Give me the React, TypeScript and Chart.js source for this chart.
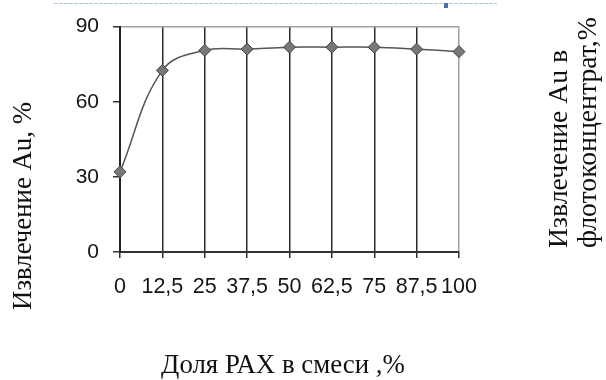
import React, { useEffect, useRef } from 'react';
import { Chart, registerables } from 'chart.js';

Chart.register(...registerables);

const shares = [0, 12.5, 25, 37.5, 50, 62.5, 75, 87.5, 100];
const recovery = [32, 72.5, 80.5, 81, 81.8, 81.8, 81.8, 81, 80];
const yTickValues = [0, 30, 60, 90];
const xTitle = 'Доля РАХ в смеси ,%';
const yTitle = 'Извлечение Au, %';
const rightTitle = ['Извлечение Au в', 'флотоконцентрат,%'];

const serif = '"Liberation Serif", "Times New Roman", serif';
const sans = '"Liberation Sans", Arial, sans-serif';

function fitFont(ctx: CanvasRenderingContext2D, text: string, target: number): string {
  ctx.font = '26px ' + serif;
  const w = ctx.measureText(text).width;
  const size = Math.max(18, Math.min(32, (26 * target) / w));
  return size.toFixed(2) + 'px ' + serif;
}

export default function App() {
  const ref = useRef<HTMLCanvasElement>(null);

  useEffect(() => {
    const canvas = ref.current;
    if (!canvas) return;

    const textPlugin = {
      id: 'decorTexts',
      afterDraw(chart: any) {
        const ctx = chart.ctx as CanvasRenderingContext2D;
        ctx.save();
        // dotted page line at the top
        ctx.strokeStyle = '#a8c6e2';
        ctx.lineWidth = 1;
        ctx.setLineDash([4, 1]);
        ctx.beginPath();
        ctx.moveTo(54, 3.5);
        ctx.lineTo(497, 3.5);
        ctx.stroke();
        ctx.setLineDash([]);
        ctx.fillStyle = '#4a70b0';
        ctx.fillRect(444, 3, 4, 5);

        ctx.fillStyle = '#111';

        // bottom title
        ctx.font = fitFont(ctx, xTitle, 244);
        ctx.textAlign = 'center';
        ctx.textBaseline = 'alphabetic';
        ctx.fillText(xTitle, 283, 373);

        // left title
        ctx.font = fitFont(ctx, yTitle, 208);
        ctx.save();
        ctx.translate(31, 206);
        ctx.rotate(-Math.PI / 2);
        ctx.textAlign = 'center';
        ctx.fillText(yTitle, 0, 0);
        ctx.restore();

        // right title (two lines, bottom-aligned)
        ctx.font = fitFont(ctx, rightTitle[1], 231);
        ctx.textAlign = 'left';
        const baseX = [567, 596];
        rightTitle.forEach((line, i) => {
          ctx.save();
          ctx.translate(baseX[i], 248);
          ctx.rotate(-Math.PI / 2);
          ctx.fillText(line, 0, 0);
          ctx.restore();
        });
        ctx.restore();
      },
    };

    const chart = new Chart(canvas, {
      type: 'line',
      data: {
        datasets: [
          {
            data: shares.map((x, i) => ({ x, y: recovery[i] })),
            borderColor: '#555555',
            borderWidth: 1.5,
            tension: 0.4,
            pointStyle: 'rectRot',
            pointRadius: 6,
            pointBackgroundColor: '#777777',
            pointBorderColor: '#444444',
            pointBorderWidth: 1,
            clip: false as any,
          },
        ],
      },
      options: {
        responsive: false,
        animation: false,
        devicePixelRatio: 1,
        layout: { padding: { top: 25, right: 147, bottom: 0, left: 0 } },
        plugins: { legend: { display: false }, tooltip: { enabled: false } },
        scales: {
          x: {
            type: 'linear',
            min: 0,
            max: 100,
            afterBuildTicks: (scale: any) => {
              scale.ticks = shares.map((v) => ({ value: v }));
            },
            afterFit: (scale: any) => {
              scale.height = 128;
            },
            ticks: {
              autoSkip: false,
              maxRotation: 0,
              padding: 16,
              color: '#151515',
              font: { family: sans, size: 21.5 },
              callback: (v: any) => String(v).replace('.', ','),
            },
            grid: {
              color: (c: any) => (c.tick && c.tick.value === 100 ? '#a0a0a0' : '#2a2a2a'),
              lineWidth: 1.5,
              tickLength: 6,
              tickColor: '#333333',
            },
            border: { display: true, color: '#333333', width: 2 },
          },
          y: {
            min: 0,
            max: 90,
            afterBuildTicks: (scale: any) => {
              scale.ticks = yTickValues.map((v) => ({ value: v }));
            },
            afterFit: (scale: any) => {
              scale.width = 120;
            },
            ticks: {
              padding: 14,
              color: '#151515',
              font: { family: sans, size: 21 },
            },
            grid: {
              color: (c: any) => (c.tick && c.tick.value === 90 ? '#a0a0a0' : 'rgba(0,0,0,0)'),
              lineWidth: 1.5,
              tickLength: 7,
              tickColor: '#333333',
            },
            border: { display: true, color: '#222222', width: 2 },
          },
        },
      },
      plugins: [textPlugin],
    } as any);

    return () => chart.destroy();
  }, []);

  return (
    <div style={{ position: 'absolute', left: 0, top: 0, width: 606, height: 380, background: '#fff' }}>
      <canvas ref={ref} width={606} height={380} style={{ display: 'block' }} />
    </div>
  );
}
